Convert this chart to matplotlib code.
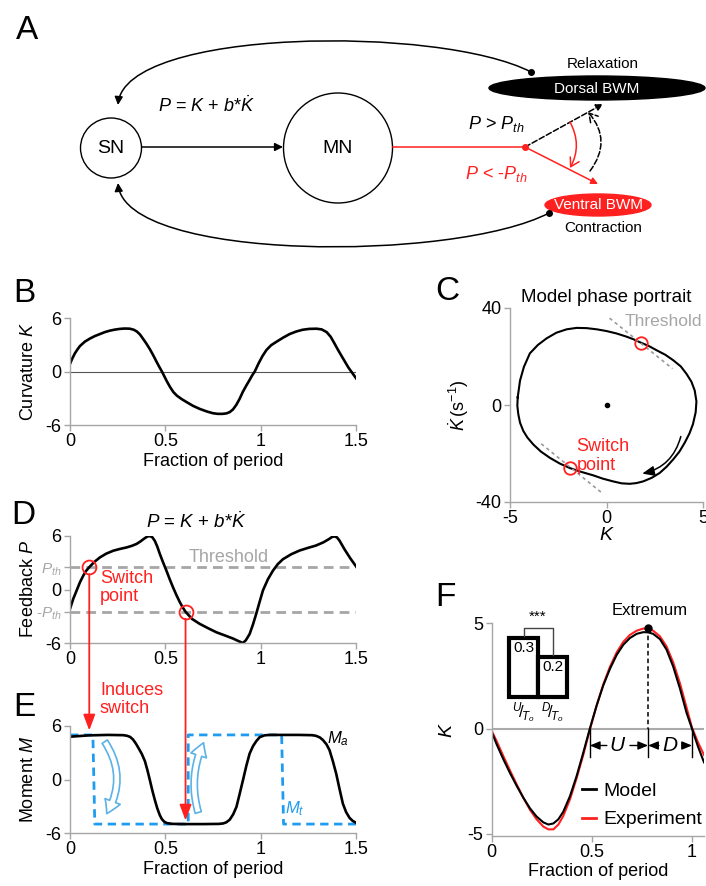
import matplotlib
matplotlib.use('Agg')
import matplotlib.pyplot as plt
from matplotlib.patches import Ellipse, FancyArrowPatch, ConnectionPatch
from matplotlib.path import Path
from matplotlib.lines import Line2D

plt.rcParams['font.family'] = ['Liberation Sans', 'DejaVu Sans']
plt.rcParams['mathtext.fontset'] = 'custom'
plt.rcParams['mathtext.rm'] = 'Liberation Sans'
plt.rcParams['mathtext.it'] = 'Liberation Sans:italic'
plt.rcParams['mathtext.bf'] = 'Liberation Sans:bold'
plt.rcParams['axes.unicode_minus'] = False

W, H = 706, 886
RED = '#ff2020'
GREY = '#a6a6a6'
BLUE = '#1f9cf0'
LIGHTBLUE = '#5ab2e6'

# B: curvature over 1.5 periods
t_curv = [0.000, 0.013, 0.026, 0.040, 0.052, 0.078, 0.105, 0.131, 0.157, 0.183, 0.209,
          0.236, 0.262, 0.288, 0.314, 0.335, 0.351, 0.367, 0.382, 0.400, 0.419, 0.437,
          0.455, 0.470, 0.482, 0.495, 0.508, 0.525, 0.542, 0.560, 0.586, 0.613, 0.645,
          0.681, 0.720, 0.750, 0.775, 0.800, 0.820, 0.838, 0.855, 0.872, 0.890, 0.906,
          0.924, 0.942, 0.955, 0.969, 0.990, 1.010, 1.030, 1.055, 1.084, 1.118, 1.152,
          1.186, 1.220, 1.255, 1.293, 1.320, 1.346, 1.367, 1.387, 1.405, 1.424, 1.442,
          1.460, 1.480, 1.500]
k_curv = [0.86, 1.50, 2.05, 2.50, 2.85, 3.35, 3.70, 3.98, 4.20, 4.42, 4.58,
          4.70, 4.78, 4.82, 4.80, 4.68, 4.48, 4.15, 3.70, 3.15, 2.50, 1.80,
          1.05, 0.45, 0.00, -0.55, -1.10, -1.75, -2.30, -2.70, -3.10, -3.45, -3.85,
          -4.20, -4.50, -4.68, -4.75, -4.75, -4.70, -4.55, -4.25, -3.75, -3.05, -2.30,
          -1.60, -0.95, -0.45, 0.00, 0.95, 1.75, 2.40, 2.95, 3.35, 3.80, 4.20,
          4.48, 4.68, 4.78, 4.80, 4.72, 4.42, 3.90, 3.15, 2.45, 1.75, 1.10,
          0.45, -0.15, -0.75]

# C: phase portrait (K, dK/dt), clockwise loop
loop_k = [-4.60, -4.48, -4.28, -3.97, -3.55, -3.10, -2.60, -2.07, -1.55, -1.03, -0.50,
          0.00, 0.52, 1.03, 1.40, 1.78, 2.20, 2.59, 3.05, 3.45, 3.85, 4.14, 4.40, 4.57,
          4.66, 4.62, 4.48, 4.30, 4.05, 3.78, 3.45, 3.12, 2.76, 2.35, 1.90, 1.55, 1.20,
          0.78, 0.34, -0.18, -0.69, -1.30, -1.90, -2.43, -2.93, -3.40, -3.79, -4.10,
          -4.31, -4.48, -4.57, -4.62, -4.60]
loop_kdot = [3.2, 10.1, 15.7, 21.3, 24.8, 27.5, 29.8, 31.2, 31.8, 31.7, 31.2,
             30.5, 29.5, 28.2, 27.1, 25.7, 24.3, 22.6, 20.7, 18.5, 15.9, 12.9, 9.6, 6.0,
             1.5, -3.0, -7.9, -11.7, -15.6, -19.2, -22.5, -25.4, -28.0, -30.0, -31.5, -32.2, -32.5,
             -32.3, -31.5, -30.4, -29.0, -27.6, -26.0, -24.1, -21.8, -19.2, -16.3, -13.4,
             -10.7, -7.3, -3.8, -0.3, 3.2]
switch_k = [1.78, -1.90]
switch_kdot = [25.7, -26.0]
thr_up_k, thr_up_kdot = [0.16, 3.42], [35.8, 15.0]
thr_lo_k, thr_lo_kdot = [-3.38, -0.20], [-16.0, -36.5]

# D: proprioceptive feedback
t_fb = [0.000, 0.017, 0.035, 0.052, 0.070, 0.085, 0.101, 0.128, 0.157, 0.190, 0.227,
        0.262, 0.297, 0.325, 0.350, 0.370, 0.390, 0.405, 0.419, 0.432, 0.445, 0.458,
        0.471, 0.488, 0.506, 0.523, 0.540, 0.558, 0.576, 0.591, 0.606, 0.640, 0.680,
        0.725, 0.768, 0.812, 0.855, 0.885, 0.907, 0.922, 0.942, 0.960, 0.977, 0.995,
        1.012, 1.038, 1.064, 1.090, 1.117, 1.160, 1.204, 1.250, 1.290, 1.330, 1.360,
        1.375, 1.387, 1.400, 1.413, 1.440, 1.470, 1.500]
p_fb = [-2.17, -1.05, -0.10, 0.80, 1.57, 2.10, 2.50, 3.10, 3.60, 4.02, 4.35,
        4.55, 4.72, 4.90, 5.12, 5.40, 5.72, 5.93, 6.00, 5.85, 5.45, 4.80,
        4.00, 3.05, 2.10, 1.15, 0.26, -0.62, -1.42, -2.00, -2.50, -3.30, -3.85,
        -4.35, -4.80, -5.15, -5.50, -5.80, -6.00, -5.70, -5.00, -3.90, -2.70, -1.35,
        -0.10, 1.15, 2.10, 2.85, 3.40, 3.95, 4.37, 4.68, 4.93, 5.30, 5.68,
        5.90, 5.95, 5.85, 5.50, 4.50, 3.50, 2.60]
p_th = 2.5
switch_t = [0.101, 0.606]
switch_p = [2.5, -2.5]

# E: active moment and target moment
t_ma = [0.000, 0.100, 0.200, 0.280, 0.300, 0.315, 0.330, 0.345, 0.360, 0.377, 0.393,
        0.406, 0.419, 0.432, 0.445, 0.458, 0.471, 0.482, 0.495, 0.510, 0.540, 0.600,
        0.700, 0.780, 0.803, 0.820, 0.838, 0.856, 0.873, 0.890, 0.908, 0.925, 0.942,
        0.960, 0.977, 0.995, 1.020, 1.047, 1.200, 1.270, 1.290, 1.310, 1.326, 1.345,
        1.361, 1.378, 1.396, 1.413, 1.431, 1.448, 1.466, 1.483, 1.500]
m_a = [4.80, 4.95, 5.00, 4.97, 4.90, 4.78, 4.50, 4.05, 3.50, 2.85, 2.05,
       1.05, -0.08, -1.25, -2.30, -3.25, -4.00, -4.45, -4.75, -4.90, -4.98, -5.00,
       -5.00, -4.98, -4.93, -4.80, -4.50, -3.90, -3.07, -1.60, 0.00, 1.55, 2.90,
       3.75, 4.30, 4.75, 4.95, 5.00, 5.00, 4.97, 4.90, 4.72, 4.44, 3.95,
       3.30, 2.10, 0.67, -1.00, -2.70, -3.65, -4.30, -4.65, -4.85]
t_mt = [0.00, 0.12, 0.13, 0.62, 0.62, 1.11, 1.12, 1.50]
m_t = [5.0, 5.0, -5.0, -5.0, 5.0, 5.0, -5.0, -5.0]

# F: model vs experiment over one period
t_cycle = [0.000, 0.025, 0.058, 0.091, 0.125, 0.158, 0.191, 0.224, 0.258, 0.283, 0.308,
           0.333, 0.357, 0.391, 0.424, 0.457, 0.490, 0.524, 0.557, 0.591, 0.624, 0.657,
           0.690, 0.724, 0.757, 0.781, 0.806, 0.840, 0.873, 0.906, 0.940, 0.973, 1.000,
           1.030, 1.060]
k_model = [-0.16, -0.75, -1.45, -2.10, -2.72, -3.28, -3.78, -4.17, -4.45, -4.55, -4.50,
           -4.30, -3.95, -3.20, -2.25, -1.15, 0.00, 1.10, 2.05, 2.85, 3.50, 3.98,
           4.30, 4.50, 4.58, 4.57, 4.50, 4.25, 3.75, 2.95, 1.90, 0.75, 0.00,
           -0.85, -1.60]
k_exp = [-0.10, -0.60, -1.30, -1.98, -2.65, -3.28, -3.85, -4.30, -4.65, -4.78, -4.78,
         -4.55, -4.15, -3.35, -2.35, -1.25, -0.05, 1.10, 2.10, 2.95, 3.62, 4.12,
         4.45, 4.65, 4.75, 4.76, 4.65, 4.38, 3.90, 3.15, 2.15, 1.00, 0.05,
         -0.65, -1.25]
extremum_t, extremum_k = 0.781, 4.77
zero_up_t, zero_down_t = 0.49, 1.0
ratio_names = [r'$^{U}\!/\!_{T_o}$', r'$^{D}\!/\!_{T_o}$']
ratio_vals = [0.3, 0.2]


def box(x0, y0, x1, y1):
    return [x0 / W, 1 - y1 / H, (x1 - x0) / W, (y1 - y0) / H]


def style(ax):
    for s in ['top', 'right']:
        ax.spines[s].set_visible(False)
    for s in ['left', 'bottom']:
        ax.spines[s].set_color(GREY)
        ax.spines[s].set_linewidth(1)
    ax.tick_params(color=GREY, length=4, width=1, labelsize=13, pad=2)


fig = plt.figure(figsize=(W / 100, H / 100), dpi=100)

# overlay in pixel coordinates for the circuit diagram and panel letters
ov = fig.add_axes([0, 0, 1, 1])
ov.set_xlim(0, W)
ov.set_ylim(H, 0)
ov.axis('off')

for lab, (x, y) in zip('ABCDEF', [(27, 30), (24, 293), (447, 292), (23, 516), (24, 708), (445, 597)]):
    ov.text(x, y, lab, fontsize=24, ha='center', va='center')

# --- A: circuit diagram
ov.add_patch(Ellipse((111, 148), 61, 60, fc='white', ec='black', lw=1))
ov.text(111, 148, 'SN', ha='center', va='center', fontsize=14)
ov.add_patch(Ellipse((338, 148), 109, 110, fc='white', ec='black', lw=1))
ov.text(338, 148, 'MN', ha='center', va='center', fontsize=14)
ov.add_patch(FancyArrowPatch((142, 147), (283, 147), arrowstyle='-|>', mutation_scale=12,
                             color='black', lw=1.1, shrinkA=0, shrinkB=0))
ov.text(206, 106, r'$P$ = $K$ + $b{*}\dot{K}$', ha='center', va='center', fontsize=13)

ov.plot([393, 525], [147, 147], color=RED, lw=1.1)
ov.plot([525], [147], 'o', color=RED, ms=4)
ov.add_patch(FancyArrowPatch((525, 147), (598, 184), arrowstyle='-|>', mutation_scale=10,
                             color=RED, lw=1.1, shrinkA=0, shrinkB=0))
ov.add_patch(FancyArrowPatch((525, 147), (603, 104), arrowstyle='-|>', mutation_scale=10,
                             color='black', lw=1.1, ls='--', shrinkA=0, shrinkB=0))
ov.add_patch(FancyArrowPatch((570, 122), (570, 168), connectionstyle='arc3,rad=-0.27',
                             arrowstyle='->,head_length=0.5,head_width=0.3', mutation_scale=12,
                             color=RED, lw=1.1, shrinkA=0, shrinkB=0))
ov.add_patch(FancyArrowPatch((590, 171), (588, 112), connectionstyle='arc3,rad=0.4',
                             arrowstyle='->,head_length=0.5,head_width=0.3', mutation_scale=12,
                             color='black', lw=1.1, ls='--', shrinkA=0, shrinkB=0))
ov.text(496, 124, r'$P$ > $P_{th}$', ha='center', va='center', fontsize=13)
ov.text(496, 174, r'$P$ < -$P_{th}$', ha='center', va='center', fontsize=13, color=RED)

ov.add_patch(Ellipse((597, 88), 216, 24, fc='black', ec='black'))
ov.text(597, 89, 'Dorsal BWM', ha='center', va='center', fontsize=11, color='white')
ov.text(603, 64, 'Relaxation', ha='center', va='center', fontsize=11)
ov.add_patch(Ellipse((598, 205), 106, 22, fc=RED, ec=RED))
ov.text(598, 205, 'Ventral BWM', ha='center', va='center', fontsize=11, color='white')
ov.text(603, 228, 'Contraction', ha='center', va='center', fontsize=11)

top_arc = Path([(531, 72), (440, 25), (125, 28), (118, 105)],
               [Path.MOVETO, Path.CURVE4, Path.CURVE4, Path.CURVE4])
bot_arc = Path([(549, 213), (455, 262), (125, 262), (118, 183)],
               [Path.MOVETO, Path.CURVE4, Path.CURVE4, Path.CURVE4])
for p in (top_arc, bot_arc):
    ov.add_patch(FancyArrowPatch(path=p, arrowstyle='-|>', mutation_scale=12,
                                 color='black', lw=1.1))
ov.plot([531, 549], [72, 213], 'o', color='black', ms=4)

# --- B: curvature
axB = fig.add_axes(box(70, 318, 356, 425))
style(axB)
axB.axhline(0, color='#555555', lw=0.8)
axB.plot(t_curv, k_curv, color='black', lw=1.9)
axB.set_xlim(0, 1.5)
axB.set_ylim(-6, 6)
axB.set_xticks([0, 0.5, 1, 1.5], ['0', '0.5', '1', '1.5'])
axB.set_yticks([-6, 0, 6])
axB.set_xlabel('Fraction of period', fontsize=13, labelpad=2)
axB.set_ylabel(r'Curvature $K$', fontsize=13)
axB.yaxis.set_label_coords(-0.115, 0.5)

# --- C: phase portrait
axC = fig.add_axes(box(510, 308, 703, 502))
style(axC)
axC.plot(loop_k, loop_kdot, color='black', lw=1.5)
axC.plot(thr_up_k, thr_up_kdot, color='#999999', lw=1.2, dashes=(2, 2))
axC.plot(thr_lo_k, thr_lo_kdot, color='#999999', lw=1.2, dashes=(2, 2))
axC.plot(switch_k, switch_kdot, 'o', mfc='none', mec=RED, ms=9, mew=1.3)
axC.plot([0], [0], 'o', color='black', ms=3)
axC.add_patch(FancyArrowPatch((3.85, -13.0), (1.85, -28.3), connectionstyle='arc3,rad=-0.3',
                              arrowstyle='-|>,head_length=0.6,head_width=0.25', mutation_scale=12,
                              color='black', lw=1.1, shrinkA=0, shrinkB=0))
axC.text(0.95, 34.5, 'Threshold', color=GREY, fontsize=12.5, ha='left', va='center')
axC.text(-1.55, -21, 'Switch\npoint', color=RED, fontsize=13, ha='left', va='center',
         linespacing=1.1)
axC.set_xlim(-5, 5)
axC.set_ylim(-40, 40)
axC.set_xticks([-5, 0, 5])
axC.set_yticks([-40, 0, 40])
axC.set_title('Model phase portrait', fontsize=13.5, pad=4)
axC.set_xlabel(r'$K$', fontsize=14, labelpad=0)
axC.set_ylabel(r'$\dot{K}\,(\mathrm{s}^{-1})$', fontsize=13)
axC.yaxis.set_label_coords(-0.2, 0.5)

# --- D: feedback
axD = fig.add_axes(box(70, 536, 356, 643))
style(axD)
for lvl in (p_th, -p_th):
    axD.axhline(lvl, color=GREY, lw=2, dashes=(3.5, 2.2))
axD.plot(t_fb, p_fb, color='black', lw=1.9)
axD.plot(switch_t, switch_p, 'o', mfc='none', mec=RED, ms=10, mew=1.3)
axD.text(0.83, 3.6, 'Threshold', color=GREY, fontsize=13, ha='center', va='center')
axD.text(0.157, 0.2, 'Switch\npoint', color=RED, fontsize=13, ha='left', va='center',
         linespacing=1.1)
axD.set_title(r'$P$ = $K$ + $b{*}\dot{K}$', fontsize=13.5, x=0.44, pad=6)
axD.set_xlim(0, 1.5)
axD.set_ylim(-6, 6)
axD.set_xticks([0, 0.5, 1, 1.5], ['0', '0.5', '1', '1.5'])
axD.set_yticks([-6, -p_th, 0, p_th, 6], ['-6', r'-$P_{th}$', '0', r'$P_{th}$', '6'])
for lab in axD.get_yticklabels():
    if 'th' in lab.get_text():
        lab.set_color(GREY)
        lab.set_fontsize(11)
axD.set_ylabel(r'Feedback $P$', fontsize=13)
axD.yaxis.set_label_coords(-0.115, 0.5)

# --- E: muscle moment
axE = fig.add_axes(box(70, 726, 356, 833))
style(axE)
axE.plot(t_mt, m_t, color=BLUE, lw=2, dashes=(3, 2))
axE.plot(t_ma, m_a, color='black', lw=1.9)
for (a, b, rad) in [((0.174, 4.5), (0.185, -4.1), -0.33), ((0.677, -4.0), (0.707, 4.4), -0.2)]:
    axE.add_patch(FancyArrowPatch(a, b, connectionstyle=f'arc3,rad={rad}',
                                  arrowstyle='simple,head_length=0.75,head_width=0.9,tail_width=0.35',
                                  mutation_scale=13, fc='white', ec=LIGHTBLUE, lw=1.2))
axE.text(1.35, 4.6, r'$M_a$', fontsize=12, ha='left', va='center')
axE.text(1.13, -3.3, r'$M_t$', fontsize=12, ha='left', va='center', color=BLUE)
axE.text(0.157, 9.0, 'Induces\nswitch', color=RED, fontsize=13, ha='left', va='center',
         linespacing=1.1, clip_on=False)
axE.set_xlim(0, 1.5)
axE.set_ylim(-6, 6)
axE.set_xticks([0, 0.5, 1, 1.5], ['0', '0.5', '1', '1.5'])
axE.set_yticks([-6, 0, 6])
axE.set_xlabel('Fraction of period', fontsize=13, labelpad=2)
axE.set_ylabel(r'Moment $M$', fontsize=13)
axE.yaxis.set_label_coords(-0.115, 0.5)

# switch events in D trigger the moment switch in E
for t, p0, m1 in [(switch_t[0], switch_p[0], 5.5), (switch_t[1], switch_p[1], -4.6)]:
    con = ConnectionPatch(xyA=(t, p0), coordsA='data', axesA=axD,
                          xyB=(t, m1), coordsB='data', axesB=axE,
                          arrowstyle='-|>,head_length=0.8,head_width=0.3', mutation_scale=12,
                          color=RED, lw=1.3, shrinkA=5, shrinkB=0)
    fig.add_artist(con)

# --- F: model vs experiment
axF = fig.add_axes(box(491.7, 623.3, 704, 836.1))
style(axF)
axF.axhline(0, color='#aaaaaa', lw=1.5)
axF.plot(t_cycle, k_exp, color=RED, lw=1.5, label='Experiment')
axF.plot(t_cycle, k_model, color='black', lw=1.5, label='Model')
axF.plot([extremum_t, extremum_t], [extremum_k, 0], color='black', lw=1.1, dashes=(3, 2))
axF.plot([extremum_t], [extremum_k], 'o', color='black', ms=5)
axF.text(extremum_t + 0.01, 5.6, 'Extremum', fontsize=12, ha='center', va='center')
for tv in (zero_up_t, extremum_t, zero_down_t):
    axF.plot([tv, tv], [0, -1.35], color='black', lw=1)
arr = dict(arrowstyle='-|>,head_length=0.6,head_width=0.25', mutation_scale=10, color='black',
           lw=1, shrinkA=0, shrinkB=0)
axF.annotate('', xy=(zero_up_t, -0.8), xytext=(0.575, -0.8), arrowprops=arr)
axF.annotate('', xy=(extremum_t, -0.8), xytext=(0.69, -0.8), arrowprops=arr)
axF.annotate('', xy=(extremum_t, -0.8), xytext=(0.835, -0.8), arrowprops=arr)
axF.annotate('', xy=(zero_down_t, -0.8), xytext=(0.95, -0.8), arrowprops=arr)
axF.text(0.63, -0.8, r'$U$', fontsize=15, ha='center', va='center')
axF.text(0.89, -0.8, r'$D$', fontsize=15, ha='center', va='center')
handles = [Line2D([], [], color='black', lw=2), Line2D([], [], color=RED, lw=2)]
axF.legend(handles, ['Model', 'Experiment'], frameon=False, loc='lower right',
           bbox_to_anchor=(1.03, 0.0), fontsize=14, handlelength=0.7, handletextpad=0.4,
           labelspacing=0.55, borderaxespad=0)
axF.set_xlim(0, 1.06)
axF.set_ylim(-5.1, 5)
axF.set_xticks([0, 0.5, 1], ['0', '0.5', '1'])
axF.set_yticks([-5, 0, 5])
axF.set_xlabel('Fraction of period', fontsize=13, labelpad=1)
axF.set_ylabel(r'$K$', fontsize=14)
axF.yaxis.set_label_coords(-0.17, 0.5)

# inset: rise and decay time fractions
axI = fig.add_axes(box(509, 610, 567, 697))
axI.bar([0, 1], ratio_vals, width=1.0, fc='white', ec='black', lw=3, clip_on=False)
for i, v in enumerate(ratio_vals):
    axI.text(i, v - 0.015, f'{v:.1f}', ha='center', va='top', fontsize=11)
    axI.text(i, -0.02, ratio_names[i], ha='center', va='top', fontsize=12)
axI.plot([0, 0, 1, 1], [ratio_vals[0] + 0.01, 0.35, 0.35, ratio_vals[1] + 0.01],
         color='#444444', lw=1)
axI.text(0.5, 0.37, '***', ha='center', va='bottom', fontsize=11)
axI.set_xlim(-0.5, 1.5)
axI.set_ylim(0, 0.44)
axI.axis('off')

fig.savefig('out.png', dpi=100)
